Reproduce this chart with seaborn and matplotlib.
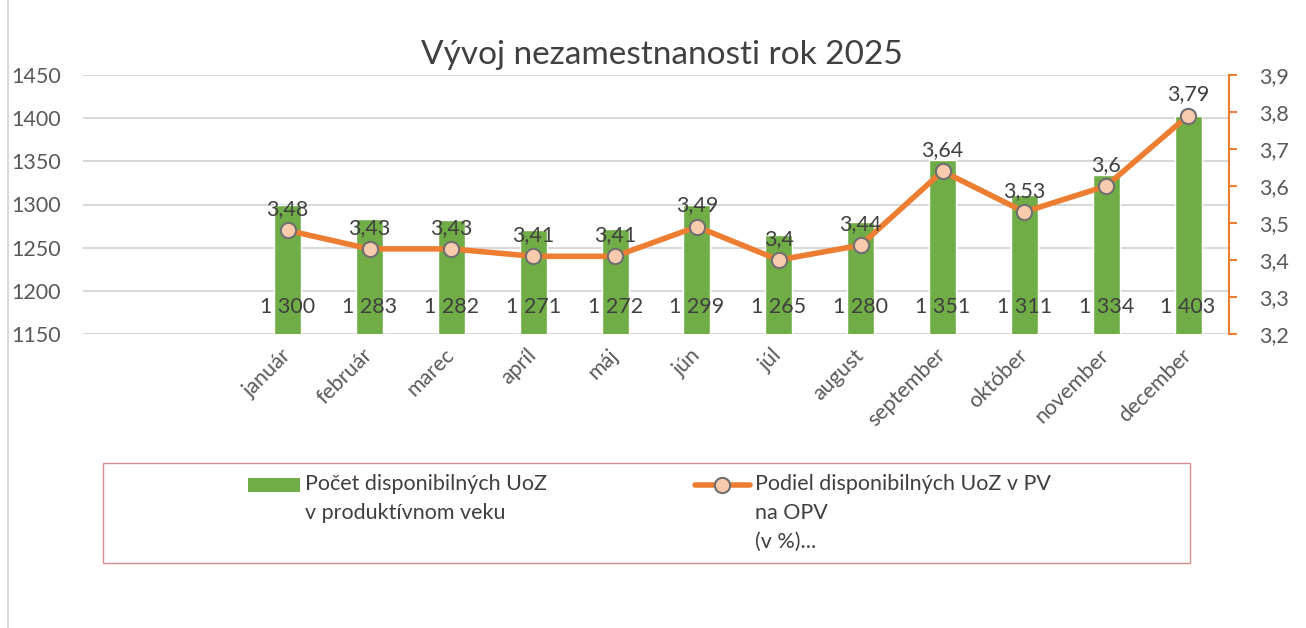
import numpy as np
import pandas as pd
import matplotlib
matplotlib.use("Agg")
import matplotlib.pyplot as plt
from matplotlib.lines import Line2D
from matplotlib.patches import Rectangle
import seaborn as sns

months = ["január", "február", "marec", "apríl", "máj", "jún", "júl",
          "august", "september", "október", "november", "december"]
counts = [1300, 1283, 1282, 1271, 1272, 1299, 1265, 1280, 1351, 1311, 1334, 1403]
rates = [3.48, 3.43, 3.43, 3.41, 3.41, 3.49, 3.40, 3.44, 3.64, 3.53, 3.60, 3.79]
left_ticks = [1150, 1200, 1250, 1300, 1350, 1400, 1450]
right_ticks = [3.2, 3.3, 3.4, 3.5, 3.6, 3.7, 3.8, 3.9]
title = "Vývoj nezamestnanosti rok 2025"
bar_label = "Počet disponibilných UoZ\nv produktívnom veku"
line_label = "Podiel disponibilných UoZ v PV\nna OPV\n(v %)..."

GREEN = "#70ad47"
ORANGE = "#ed7d31"
MFACE = "#f8cbad"
MEDGE = "#6f6f6f"
TXT = "#404040"
TICK = "#595959"
GRID = "#d9d9d9"
FS = 15.5

sns.set_theme(style="white")
plt.rcParams["font.family"] = ["Lato", "DejaVu Sans"]

def fmt_dec(v):
    s = f"{v:.2f}".rstrip("0").rstrip(".")
    return s.replace(".", ",")

def fmt_int(v):
    return f"{int(v):,}".replace(",", " ")

df = pd.DataFrame({"month": months, "count": counts, "rate": rates,
                   "pos": np.arange(len(months))})

W, H = 1306, 628
fig = plt.figure(figsize=(W/100, H/100), dpi=100)
ax = fig.add_axes([83/W, 1-334/H, (1229-83)/W, (334-75)/H])

sns.barplot(data=df, x="month", y="count", color=GREEN, width=0.33,
            saturation=1, ax=ax, zorder=2)
ax.set_ylim(1150, 1450)
ax.set_xlim(-2.5, 11.5)
ax.set_yticks(left_ticks)
ax.set_yticklabels([str(t) for t in left_ticks])
ax.grid(axis="y", color=GRID, linewidth=1.5, zorder=0)
ax.set_axisbelow(True)
for s in ax.spines.values():
    s.set_visible(False)
ax.set_xlabel("")
ax.set_ylabel("")
ax.tick_params(axis="y", length=0, pad=16, labelsize=FS, labelcolor=TICK)
ax.tick_params(axis="x", length=0, pad=13, labelsize=FS, labelcolor=TICK)
plt.setp(ax.get_xticklabels(), rotation=45, ha="right", va="center",
         rotation_mode="anchor")

for p, c in zip(df["pos"], df["count"]):
    ax.annotate(fmt_int(c), (p, 1150), xytext=(0, 12), textcoords="offset points",
                ha="center", va="bottom", fontsize=FS, color=TXT, zorder=5)

ax2 = ax.twinx()
ax2.set_position(ax.get_position())
sns.lineplot(data=df, x="pos", y="rate", color=ORANGE, linewidth=4, ax=ax2,
             marker="o", markersize=11, markerfacecolor=MFACE,
             markeredgecolor=MEDGE, markeredgewidth=1.5, zorder=4)
ax2.set_ylim(3.2, 3.9)
ax2.set_xlim(-2.5, 11.5)
ax2.set_yticks(right_ticks)
ax2.set_yticklabels([fmt_dec(t) for t in right_ticks])
ax2.set_ylabel("")
ax2.set_xlabel("")
for k, s in ax2.spines.items():
    s.set_visible(k == "right")
ax2.spines["right"].set_color(ORANGE)
ax2.spines["right"].set_linewidth(1.5)
ax2.tick_params(axis="y", direction="out", length=6, width=1.5, color=ORANGE,
                pad=16, labelsize=FS, labelcolor=TICK, right=True)
ax2.grid(False)

for p, r in zip(df["pos"], df["rate"]):
    ax2.annotate(fmt_dec(r), (p, r), xytext=(0, 8), textcoords="offset points",
                 ha="center", va="bottom", fontsize=FS, color=TXT, zorder=6)

fig.text(662/W, 1-55/H, title, ha="center", va="center",
         fontsize=24, color=TXT)

# chart-area left border
fig.add_artist(Line2D([8/W, 8/W], [0, 1], transform=fig.transFigure,
                      color=GRID, linewidth=1.5))

# legend box with manually placed entries
fig.add_artist(Rectangle((103/W, 1-563/H), (1190-103)/W, 100/H,
                         transform=fig.transFigure, fill=False,
                         edgecolor="#d98c8c", linewidth=1))
fig.add_artist(Rectangle((248/W, 1-492/H), 52/W, 14/H,
                         transform=fig.transFigure, facecolor=GREEN,
                         edgecolor="none"))
fig.add_artist(Line2D([695/W, 750/W], [1-485/H, 1-485/H],
                      transform=fig.transFigure, color=ORANGE, linewidth=4,
                      solid_capstyle="round"))
fig.add_artist(Line2D([722/W], [1-485/H], transform=fig.transFigure,
                      marker="o", markersize=11, markerfacecolor=MFACE,
                      markeredgecolor=MEDGE, markeredgewidth=1.5, linestyle="none"))
fig.text(305/W, 1-474/H, bar_label, ha="left", va="top", fontsize=FS,
         color=TXT, linespacing=1.55)
fig.text(755/W, 1-474/H, line_label, ha="left", va="top", fontsize=FS,
         color=TXT, linespacing=1.55)

fig.savefig("out.png", dpi=100, facecolor="white")
